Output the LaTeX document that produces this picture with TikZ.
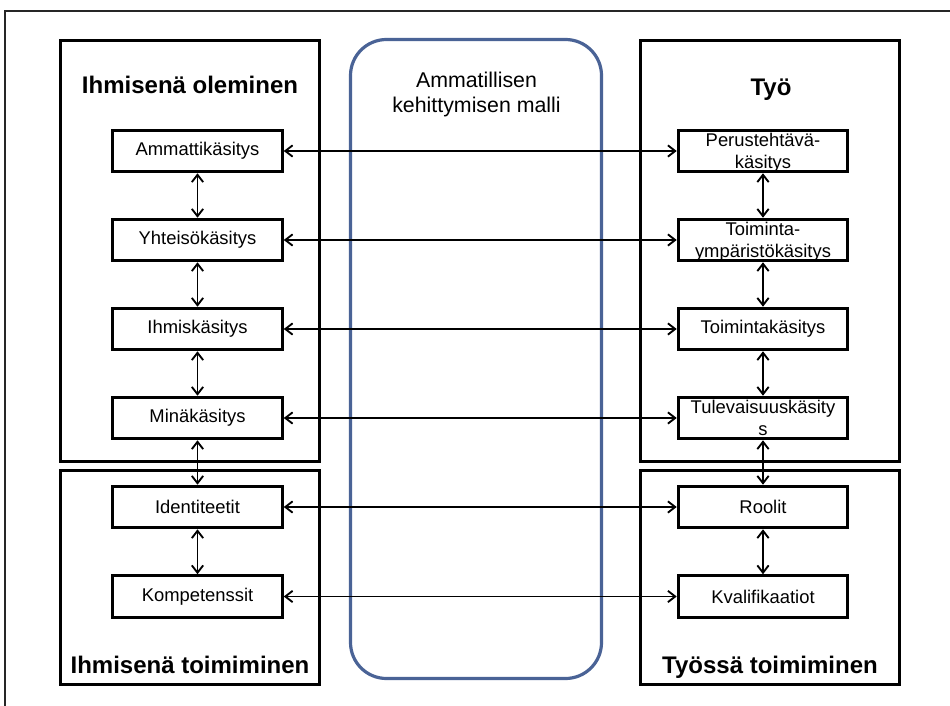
\documentclass[tikz,border=0pt]{standalone}
\usepackage{fontspec}
\setmainfont{Liberation Sans}
\usetikzlibrary{arrows.meta}
\definecolor{modelblue}{HTML}{4A6396}
% two-line label, set a little low in its box and not widening its height
\newcommand{\twolines}[2]{\raisebox{-5.3pt}[0pt][0pt]{\begin{tabular}{@{}c@{}}#1\\#2\end{tabular}}}
\begin{document}
\begin{tikzpicture}[x=0.75pt,y=-0.75pt,
  bigbox/.style={draw=black,line width=2.6pt,inner sep=0pt},
  itembox/.style={draw=black,line width=2.4pt,inner sep=0pt,
    minimum width=127pt,minimum height=31pt,align=center,
    font=\fontsize{13.8}{16.3}\selectfont},
  heading/.style={font=\fontsize{18}{21}\selectfont\bfseries,anchor=base,inner sep=0pt},
  barb/.tip={Straight Barb[length=5.5pt,width=8.5pt,line width=1.4pt]},
  link/.style={line width=1.45pt,{barb}-{barb}}
]
\useasboundingbox (0,0) rectangle (950,706);

% page frame (only the top and left edges are in view)
\coordinate (fa) at (950,11);
\coordinate (fb) at (5,11);
\coordinate (fc) at (5,706);
\draw[line width=0.9pt,black!85] (fa) -- (fb) -- (fc);

% central model
\node[draw=modelblue,line width=2.4pt,rounded corners=36*0.75pt,
  minimum width=251*0.75pt,minimum height=639*0.75pt,inner sep=0pt] (model) at (476,359) {};
\node[align=center,font=\fontsize{16}{18.75}\selectfont,inner sep=0pt] (modeltxt) at (476.5,94)
  {Ammatillisen\\kehittymisen malli};

% group frames
\node[bigbox,minimum width=259*0.75pt,minimum height=421*0.75pt] (gTL) at (190,251) {};
\node[bigbox,minimum width=259*0.75pt,minimum height=214*0.75pt] (gBL) at (190,577.5) {};
\node[bigbox,minimum width=259*0.75pt,minimum height=421*0.75pt] (gTR) at (770,251) {};
\node[bigbox,minimum width=259*0.75pt,minimum height=214*0.75pt] (gBR) at (770,577.5) {};

\node[heading] (hTL) at (190,94) {Ihmisenä oleminen};
\node[heading] (hTR) at (771,95.5) {Työ};
\node[heading] (hBL) at (190,673) {Ihmisenä toimiminen};
\node[heading] (hBR) at (770,673) {Työssä toimiminen};

% left column
\node[itembox] (l1) at (197.5,151) {Ammattikäsitys};
\node[itembox] (l2) at (197.5,240) {Yhteisökäsitys};
\node[itembox] (l3) at (197.5,329) {Ihmiskäsitys};
\node[itembox] (l4) at (197.5,418) {Minäkäsitys};
\node[itembox] (l5) at (197.5,507) {Identiteetit};
\node[itembox] (l6) at (197.5,596.5) {Kompetenssit};

% right column
\node[itembox] (r1) at (763,151) {\twolines{Perustehtävä-}{käsitys}};
\node[itembox] (r2) at (763,240) {\twolines{Toiminta-}{ympäristökäsitys}};
\node[itembox] (r3) at (763,329) {Toimintakäsitys};
\node[itembox] (r4) at (763,418) {\twolines{Tulevaisuuskäsity}{s}};
\node[itembox] (r5) at (763,507) {Roolit};
\node[itembox] (r6) at (763,596.5) {Kvalifikaatiot};

% vertical links
\foreach \a/\b in {l1/l2,l2/l3,l3/l4,l4/l5,l5/l6,r1/r2,r2/r3,r3/r4,r4/r5,r5/r6}
  \draw[link] (\a.south) -- (\b.north);

% horizontal links
\foreach \i in {1,...,6}
  \draw[link] (l\i.east) -- (r\i.west);
\end{tikzpicture}
\end{document}
